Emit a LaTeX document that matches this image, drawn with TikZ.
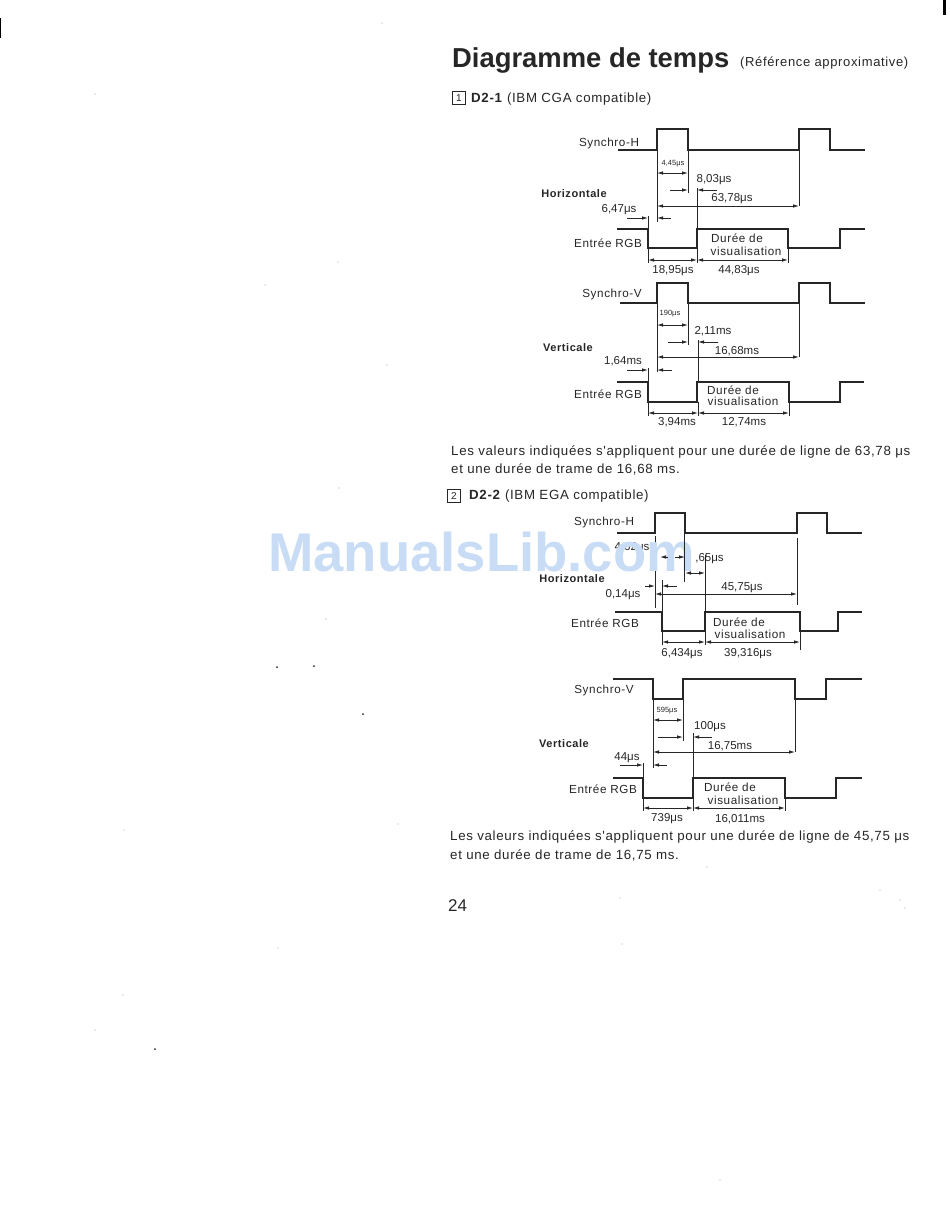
\documentclass[tikz,border=0pt]{standalone}
\usepackage{fontspec}
\setmainfont{Liberation Sans}
\newfontfamily\widefont[LetterSpace=5]{Liberation Sans}
\usetikzlibrary{arrows.meta}
\definecolor{inkgray}{gray}{0.15}
\definecolor{wmblue}{RGB}{200,220,246}
\tikzset{
	wave/.style={line width=2.2pt, color=inkgray},
	ext/.style={line width=0.6pt, color=inkgray},
	dimline/.style={line width=0.8pt, color=inkgray, {Latex[length=6pt,width=3.5pt]}-{Latex[length=6pt,width=3.5pt]}},
	dimto/.style={line width=0.8pt, color=inkgray, -{Latex[length=6pt,width=3.5pt]}},
	lab/.style={font=\fontsize{11.5}{13}\selectfont, color=inkgray, inner sep=0pt, yshift=-1pt},
	wide lab/.style={font=\fontsize{11.7}{13}\selectfont\widefont, color=inkgray, inner sep=0pt, yshift=-1pt},
	tiny lab/.style={font=\fontsize{7.5}{9}\selectfont, color=inkgray, inner sep=0pt},
	head lab/.style={font=\fontsize{11}{13}\selectfont\widefont\bfseries, color=inkgray, inner sep=0pt, yshift=-1pt},
	para/.style={font=\fontsize{13.3}{15}\selectfont\widefont, color=inkgray, inner sep=0pt, anchor=west, yshift=-1pt},
	numbox/.style={draw=inkgray, line width=0.7pt, font=\fontsize{10}{12}\selectfont, color=inkgray, minimum width=13pt, minimum height=13pt, inner sep=0pt},
	speck/.style={fill=inkgray},
	faint/.style={fill=black!35}
}
\begin{document}
\begin{tikzpicture}[x=1pt, y=-1pt]
	\useasboundingbox (0, 0) rectangle (950, 1215);
	%%%%% START %%%%%

	% heading
	\node[inner sep=0pt, anchor=west, color=inkgray, font=\fontsize{27.4}{30}\selectfont\bfseries] (title) at (452, 60) {Diagramme de temps};
	\node[para, font=\fontsize{13}{14}\selectfont\widefont] (titleref) at (740, 62) {(Référence approximative)};

	\node[numbox] (numa) at (459, 98) {1};
	\node[para] (heada) at (471, 98) {\textbf{D2-1} (IBM CGA compatible)};

	% CGA horizontal
	\draw[wave] (618, 150) -- (657, 150) -- (657, 129) -- (688, 129) -- (688, 150) -- (799, 150) -- (799, 129) -- (830, 129) -- (830, 150) -- (865, 150);
	\node[wide lab] (synchHa) at (609, 142) {Synchro-H};
	\draw[ext] (657, 150) -- (657, 222);
	\draw[ext] (688, 150) -- (688, 193);
	\draw[ext] (799, 150) -- (799, 206);
	\draw[ext] (697, 188) -- (697, 229);
	\node[tiny lab] (sha) at (673, 164) {4,45μs};
	\draw[dimline] (657, 173) -- (688, 173);
	\draw[dimto] (670, 190) -- (688, 190);
	\draw[dimto] (717, 190) -- (697, 190);
	\node[lab] (shb) at (714, 179) {8,03μs};
	\node[lab] (shc) at (732, 198) {63,78μs};
	\draw[dimline] (657, 206) -- (799, 206);
	\node[head lab] (horiza) at (574, 193) {Horizontale};
	\node[lab] (shd) at (619, 209) {6,47μs};
	\draw[dimto] (627, 218) -- (648, 218);
	\draw[dimto] (671, 218) -- (657, 218);
	\draw[ext] (648, 216) -- (648, 229);

	\draw[wave] (617, 229) -- (648, 229) -- (648, 248) -- (697, 248) -- (697, 229) -- (788, 229) -- (788, 248) -- (840, 248) -- (840, 229) -- (865, 229);
	\node[wide lab] (rgba) at (608, 242) {Entrée RGB};
	\node[wide lab] (dura) at (737, 237) {Durée de};
	\node[wide lab] (visa) at (746, 250) {visualisation};
	\draw[ext] (648, 248) -- (648, 263);
	\draw[ext] (697, 248) -- (697, 263);
	\draw[ext] (788, 248) -- (788, 263);
	\draw[dimline] (648, 260) -- (697, 260);
	\draw[dimline] (697, 260) -- (788, 260);
	\node[lab] (rga) at (673, 270) {18,95μs};
	\node[lab] (rgb) at (739, 270) {44,83μs};

	% CGA vertical
	\draw[wave] (620, 303) -- (657, 303) -- (657, 283) -- (688, 283) -- (688, 303) -- (799, 303) -- (799, 283) -- (830, 283) -- (830, 303) -- (865, 303);
	\node[wide lab] (synchVa) at (612, 293) {Synchro-V};
	\draw[ext] (657, 303) -- (657, 372);
	\draw[ext] (688, 303) -- (688, 345);
	\draw[ext] (799, 303) -- (799, 357);
	\draw[ext] (698, 340) -- (698, 382);
	\node[tiny lab] (sva) at (670, 314) {190μs};
	\draw[dimline] (657, 325) -- (688, 325);
	\draw[dimto] (668, 342) -- (688, 342);
	\draw[dimto] (718, 342) -- (698, 342);
	\node[lab] (svb) at (713, 330) {2,11ms};
	\node[lab] (svc) at (737, 350) {16,68ms};
	\draw[dimline] (657, 357) -- (799, 357);
	\node[head lab] (verta) at (568, 347) {Verticale};
	\node[lab] (svd) at (623, 360) {1,64ms};
	\draw[dimto] (627, 370) -- (648, 370);
	\draw[dimto] (672, 370) -- (657, 370);
	\draw[ext] (648, 368) -- (648, 382);

	\draw[wave] (617, 382) -- (648, 382) -- (648, 402) -- (697, 402) -- (697, 382) -- (789, 382) -- (789, 402) -- (840, 402) -- (840, 382) -- (864, 382);
	\node[wide lab] (rgbb) at (608, 393) {Entrée RGB};
	\node[wide lab] (durb) at (733, 389) {Durée de};
	\node[wide lab] (visb) at (743, 400) {visualisation};
	\draw[ext] (648, 402) -- (648, 416);
	\draw[ext] (698, 402) -- (698, 416);
	\draw[ext] (789, 402) -- (789, 416);
	\draw[dimline] (648, 413) -- (698, 413);
	\draw[dimline] (698, 413) -- (789, 413);
	\node[lab] (rvc) at (677, 421) {3,94ms};
	\node[lab] (rvd) at (744, 421) {12,74ms};

	\node[para] (noteaa) at (451, 451) {Les valeurs indiquées s'appliquent pour une durée de ligne de 63,78 μs};
	\node[para] (noteab) at (451, 468) {et une durée de trame de 16,68 ms.};

	\node[numbox] (numb) at (454, 496) {2};
	\node[para] (headb) at (469, 495) {\textbf{D2-2} (IBM EGA compatible)};

	% EGA horizontal
	\draw[wave] (617, 533) -- (655, 533) -- (655, 513) -- (685, 513) -- (685, 533) -- (797, 533) -- (797, 513) -- (827, 513) -- (827, 533) -- (862, 533);
	\node[wide lab] (synchHb) at (604, 521) {Synchro-H};
	\draw[ext] (655, 536) -- (655, 608);
	\node[lab] (hga) at (632, 547) {4,62μs};

	% watermark, over the label just above
	\node[inner sep=0pt, color=wmblue, font=\fontsize{54.5}{60}\selectfont\bfseries] (wmark) at (481.5, 552) {ManualsLib.com};

	\draw[ext] (684, 533) -- (684, 582);
	\draw[ext] (705, 555) -- (705, 612);
	\draw[ext] (797, 538) -- (797, 605);
	\draw[ext] (655, 578) -- (655, 608);
	\draw[ext] (662, 580) -- (662, 612);
	\draw[dimto] (668, 557) -- (660, 557);
	\draw[dimto] (675, 557) -- (685, 557);
	\node[lab] (hgb) at (709.5, 558) {,65μs};
	\draw[dimline] (685, 573) -- (705, 573);
	\node[head lab] (horizb) at (572, 578) {Horizontale};
	\draw[dimto] (645, 586) -- (655, 586);
	\draw[dimto] (677, 586) -- (662, 586);
	\node[lab] (hgc) at (623, 594) {0,14μs};
	\node[lab] (hgd) at (742, 587) {45,75μs};
	\draw[dimline] (655, 594) -- (797, 594);

	\draw[wave] (615, 612) -- (662, 612) -- (662, 631) -- (705, 631) -- (705, 612) -- (800, 612) -- (800, 631) -- (838, 631) -- (838, 612) -- (862, 612);
	\node[wide lab] (rgbc) at (605, 622) {Entrée RGB};
	\node[wide lab] (durc) at (739, 621) {Durée de};
	\node[wide lab] (visc) at (750, 633) {visualisation};
	\draw[ext] (662, 631) -- (662, 645);
	\draw[ext] (705, 631) -- (705, 645);
	\draw[ext] (800, 631) -- (800, 650);
	\draw[dimline] (662, 642) -- (705, 642);
	\draw[dimline] (705, 642) -- (800, 642);
	\node[lab] (rge) at (682, 653) {6,434μs};
	\node[lab] (rgf) at (748, 653) {39,316μs};

	% EGA vertical
	\draw[wave] (613, 679) -- (653, 679) -- (653, 699) -- (683, 699) -- (683, 679) -- (795, 679) -- (795, 699) -- (826, 699) -- (826, 679) -- (862, 679);
	\node[wide lab] (synchVb) at (604, 689) {Synchro-V};
	\draw[ext] (653, 699) -- (653, 768);
	\draw[ext] (683, 699) -- (683, 741);
	\draw[ext] (795, 699) -- (795, 752);
	\draw[ext] (693, 733) -- (693, 778);
	\node[tiny lab] (vga) at (667, 711) {595μs};
	\draw[dimline] (653, 720) -- (683, 720);
	\draw[dimto] (658, 737) -- (683, 737);
	\draw[dimto] (712, 737) -- (693, 737);
	\node[lab] (vgb) at (710, 726) {100μs};
	\node[lab] (vgc) at (730, 745) {16,75ms};
	\draw[dimline] (653, 752) -- (795, 752);
	\node[head lab] (vertb) at (564, 743) {Verticale};
	\node[lab] (vgd) at (627, 757) {44μs};
	\draw[dimto] (620, 765) -- (643, 765);
	\draw[dimto] (667, 765) -- (653, 765);
	\draw[ext] (643, 763) -- (643, 778);

	\draw[wave] (613, 778) -- (643, 778) -- (643, 798) -- (693, 798) -- (693, 778) -- (785, 778) -- (785, 798) -- (836, 798) -- (836, 778) -- (862, 778);
	\node[wide lab] (rgbd) at (603, 788) {Entrée RGB};
	\node[wide lab] (durd) at (730, 786) {Durée de};
	\node[wide lab] (visd) at (743, 799) {visualisation};
	\draw[ext] (643, 798) -- (643, 811);
	\draw[ext] (693, 798) -- (693, 811);
	\draw[ext] (785, 798) -- (785, 811);
	\draw[dimline] (643, 808) -- (693, 808);
	\draw[dimline] (693, 808) -- (785, 808);
	\node[lab] (rvg) at (667, 818) {739μs};
	\node[lab] (rvh) at (740, 818) {16,011ms};

	\node[para] (noteba) at (450, 836) {Les valeurs indiquées s'appliquent pour une durée de ligne de 45,75 μs};
	\node[para] (notebb) at (450, 854) {et une durée de trame de 16,75 ms.};
	\node[para, font=\fontsize{17}{20}\selectfont] (pagenum) at (448, 905) {24};

	% scan marks
	\fill[black] (0, 18) rectangle (1, 38);
	\fill[black] (943, 0) rectangle (946, 15);
	\foreach \sx/\sy in {277/667, 314/666, 155/1049, 363/714}
		\fill[speck] (\sx, \sy) circle (1);
	\foreach \sx/\sy in {95/94, 326/619, 124/830, 338/262, 339/488, 387/365, 265/285, 382/23, 278/948, 95/1030, 123/995, 720/1180, 622/944, 900/900, 905/908, 880/890, 620/898, 707/867, 398/824}
		\fill[faint] (\sx, \sy) circle (0.7);

	%%%%% END %%%%%
\end{tikzpicture}
\end{document}
